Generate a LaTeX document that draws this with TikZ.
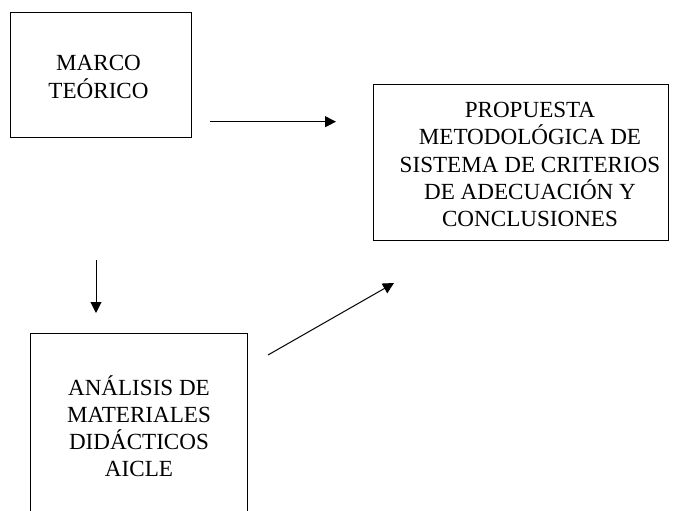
\documentclass[tikz,border=0pt]{standalone}
\usepackage{fontspec}
\setmainfont{Liberation Serif}
\usetikzlibrary{arrows.meta}
\begin{document}
\begin{tikzpicture}[x=1pt,y=-1pt,
  box/.style={draw=black,line width=0.9pt,inner sep=0pt},
  txt/.style={align=center,inner sep=0pt,font=\fontsize{23.1}{27.2}\selectfont},
  arr/.style={line width=1pt,-{Triangle[length=11pt,width=11pt]}}]
\useasboundingbox (0,0) rectangle (675,511);
\clip (0,0) rectangle (675,511);
% boxes
\node[box,minimum width=181pt,minimum height=125pt] (marco) at (100.5,74.5) {};
\node[box,minimum width=295pt,minimum height=156pt] (prop) at (520.5,162) {};
\node[box,minimum width=217.5pt,minimum height=200pt] (anal) at (138.75,433) {};
% texts
\node[txt] (marcot) at (98.5,77) {MARCO\\TEÓRICO};
\node[txt] (propt) at (530,164.5) {PROPUESTA\\METODOLÓGICA DE\\SISTEMA DE CRITERIOS\\DE ADECUACIÓN Y\\CONCLUSIONES};
\node[txt] (analt) at (139,426) {ANÁLISIS DE\\MATERIALES\\DIDÁCTICOS\\AICLE};
% arrows
\coordinate (h1) at (210,121.7);
\coordinate (h2) at (336,121.7);
\coordinate (v1) at (96,260);
\coordinate (v2) at (96,313);
\coordinate (d1) at (268,355);
\coordinate (d2) at (394,283);
\draw[arr] (h1) -- (h2);
\draw[arr] (v1) -- (v2);
\draw[arr] (d1) -- (d2);
\end{tikzpicture}
\end{document}
